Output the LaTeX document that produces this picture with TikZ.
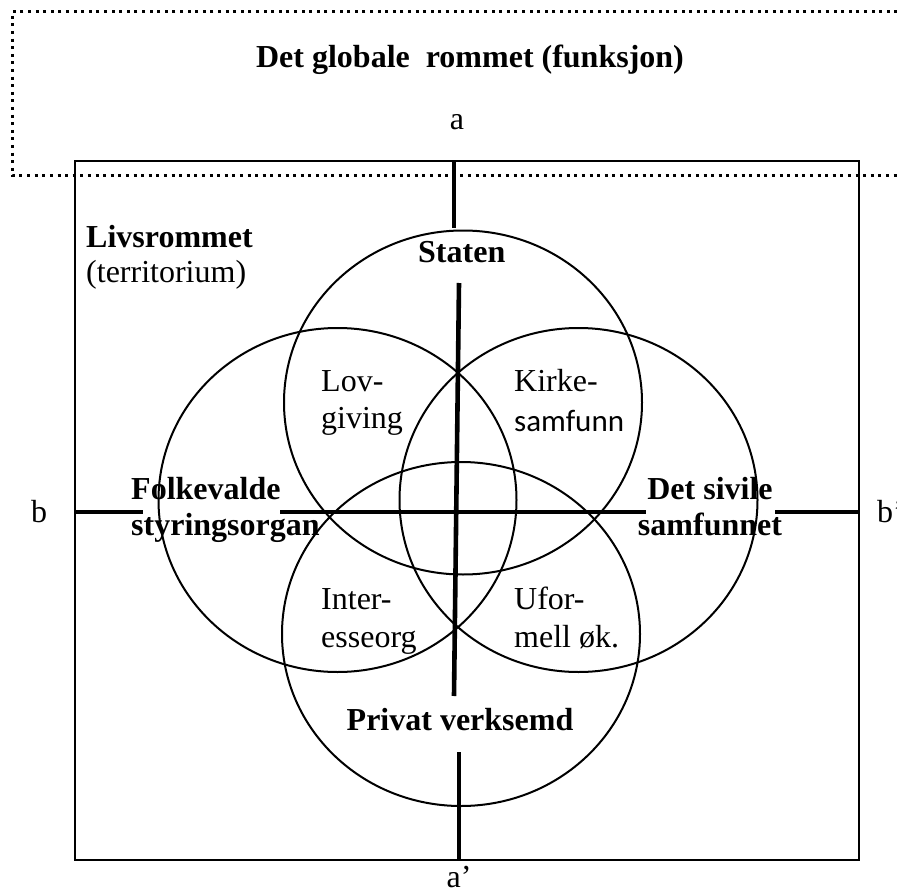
\documentclass[tikz,border=0pt]{standalone}
\usepackage{fontspec}
\setmainfont{Liberation Serif}
\newfontfamily\sansfam{Carlito}
\usetikzlibrary{shapes.geometric}
\begin{document}
\begin{tikzpicture}[x=1pt,y=-1pt,
  lbl/.style={inner sep=0pt, font=\fontsize{32}{37}\selectfont},
  bold/.style={inner sep=0pt, font=\fontsize{32}{37}\selectfont\bfseries},
  ring/.style={draw, ellipse, minimum width=358pt, minimum height=344pt,
               line width=2pt, inner sep=0pt},
  axis/.style={line width=4.6pt},
  frame/.style={line width=2.3pt},
  dotframe/.style={line width=3pt, dash pattern=on 3pt off 4.6pt}
]
\useasboundingbox (0,0) rectangle (897,888);

% territorial frame
\draw[frame] (75,161) rectangle (859,860);

% four overlapping spheres
\node[ring] (staten)  at (463,402.5) {};
\node[ring] (folk)    at (337.5,500) {};
\node[ring] (sivil)   at (578.5,500) {};
\node[ring] (privat)  at (461,634)   {};

% axis end points
\coordinate (aTop1) at (454,161);
\coordinate (aTop2) at (454,228);
\coordinate (aMid1) at (459,283);
\coordinate (aMid2) at (454,696);
\coordinate (aBot1) at (459,752);
\coordinate (aBot2) at (459,860);
\coordinate (bL1) at (75,512);
\coordinate (bL2) at (143,512);
\coordinate (bM1) at (280,512);
\coordinate (bM2) at (646,512);
\coordinate (bR1) at (775,512);
\coordinate (bR2) at (859,512);

\draw[axis] (aTop1) -- (aTop2);
\draw[axis] (aMid1) -- (aMid2);
\draw[axis] (aBot1) -- (aBot2);
\draw[axis] (bL1) -- (bL2);
\draw[axis] (bM1) -- (bM2);
\draw[axis] (bR1) -- (bR2);

% global space, open to the right
\draw[dotframe] (905,12) -- (12,12) -- (12,175.5) -- (905,175.5);

% labels
\node[bold, anchor=base] (title) at (470,68) {Det globale\ \ rommet (funksjon)};
\node[lbl, anchor=base] (la) at (457,130) {a};
\node[lbl, anchor=base] (la2) at (459,887) {a’};
\node[lbl, anchor=base] (lb) at (39,522) {b};
\node[lbl, anchor=base west] (lb2) at (877,522) {b’};

\node[bold, anchor=base west] (livs) at (86,247) {Livsrommet};
\node[lbl, anchor=base west] (terr) at (86,282) {(territorium)};

\node[bold, anchor=base west] (tstaten) at (418,262) {Staten};
\node[bold, anchor=base west] (tfolk1) at (131,499) {Folkevalde};
\node[bold, anchor=base west] (tfolk2) at (131,535) {styringsorgan};
\node[bold, anchor=base] (tsiv1) at (710,499) {Det sivile};
\node[bold, anchor=base] (tsiv2) at (710,535) {samfunnet};
\node[bold, anchor=base] (tpriv) at (460,730) {Privat verksemd};

\node[lbl, anchor=base west] (lov1) at (321,391) {Lov-};
\node[lbl, anchor=base west] (lov2) at (321,428) {giving};
\node[lbl, anchor=base west] (kir1) at (514,391) {Kirke-};
\node[lbl, anchor=base west, font=\fontsize{31}{37}\sansfam] (kir2) at (514,431) {samfunn};
\node[lbl, anchor=base west] (int1) at (321,609) {Inter-};
\node[lbl, anchor=base west] (int2) at (321,647) {esseorg};
\node[lbl, anchor=base west] (ufo1) at (514,609) {Ufor-};
\node[lbl, anchor=base west] (ufo2) at (514,647) {mell øk.};
\end{tikzpicture}
\end{document}
